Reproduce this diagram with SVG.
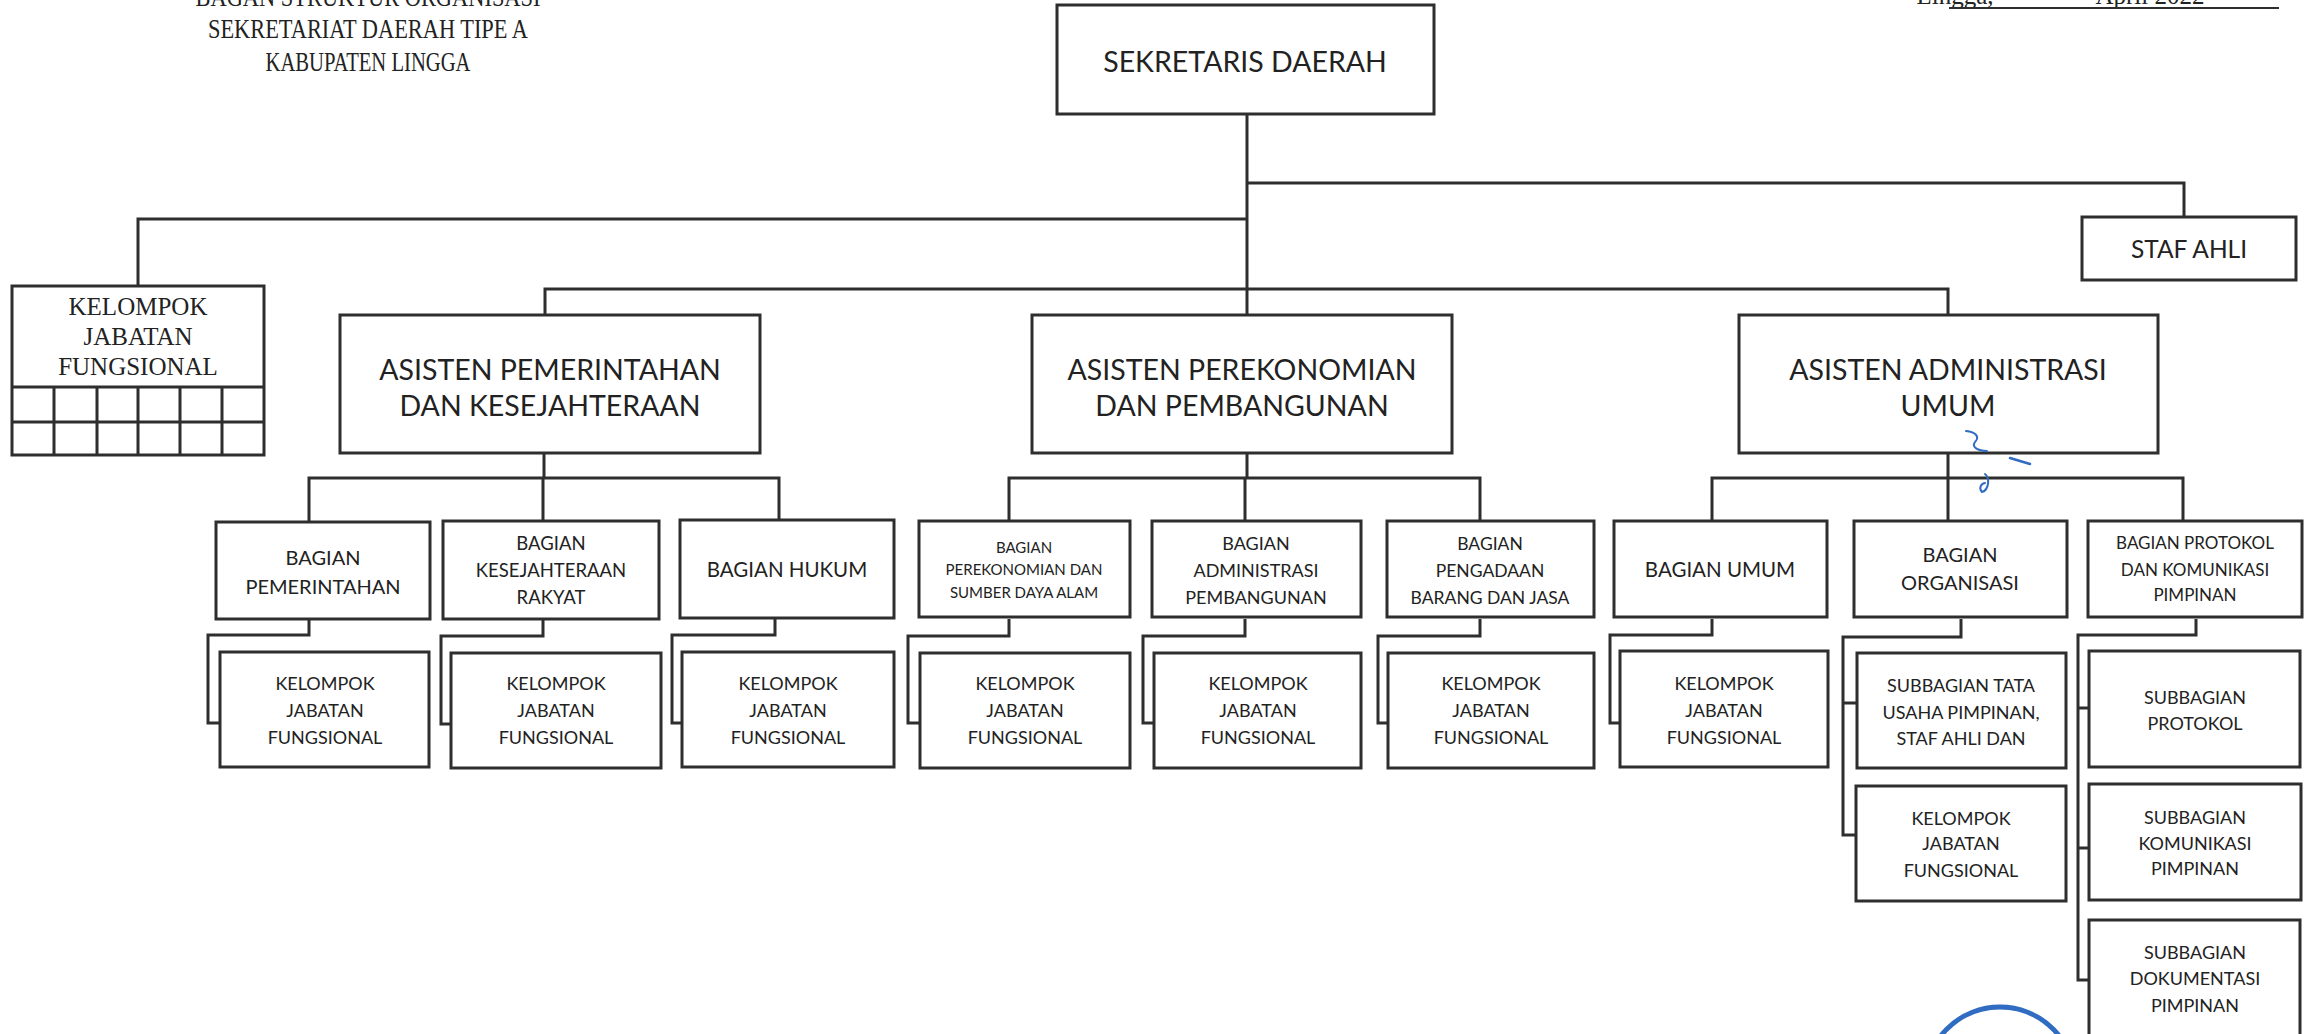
<svg xmlns="http://www.w3.org/2000/svg" width="2309" height="1034" viewBox="0 0 2309 1034">
  <style>
    .box { fill: #ffffff; stroke: #2e2e2e; stroke-width: 3; }
    .ln { fill: none; stroke: #2e2e2e; stroke-width: 3; }
    .t { font-family: Lato, "Open Sans", sans-serif; fill: #222222; text-anchor: middle; }
    .s { font-family: "Liberation Serif", serif; fill: #222222; text-anchor: middle; }
    .ink { fill: none; stroke: #2f6cc2; stroke-linecap: round; stroke-linejoin: round; }
  </style>
  <rect x="0" y="0" width="2309" height="1034" fill="#ffffff"/>

  <!-- heading -->
  <g id="title">
    <text class="s" x="368" y="6" font-size="28" textLength="345" lengthAdjust="spacingAndGlyphs">BAGAN STRUKTUR ORGANISASI</text>
    <text class="s" x="368" y="38" font-size="28" textLength="320" lengthAdjust="spacingAndGlyphs">SEKRETARIAT DAERAH TIPE A</text>
    <text class="s" x="368" y="71" font-size="28" textLength="205" lengthAdjust="spacingAndGlyphs">KABUPATEN LINGGA</text>
  </g>
  <g id="date">
    <text class="s" x="1955" y="4" font-size="25" text-anchor="start">Lingga,</text>
    <text class="s" x="2150" y="4" font-size="25" text-anchor="start">April 2022</text>
    <line x1="1949" y1="8" x2="2279" y2="8" stroke="#2e2e2e" stroke-width="2"/>
  </g>

  <!-- connectors -->
  <g id="connectors">
    <path class="ln" d="M1247,113 V315"/>
    <path class="ln" d="M1247,183 H2184 V217"/>
    <path class="ln" d="M1247,219 H138 V286"/>
    <path class="ln" d="M545,315 V289 H1948 V315"/>
    <!-- asisten to bagian -->
    <path class="ln" d="M544,453 V478 M309,521 V478 H779 V521 M543,478 V521"/>
    <path class="ln" d="M1247,453 V478 M1009,521 V478 H1480 V521 M1245,478 V521"/>
    <path class="ln" d="M1948,453 V478 M1712,521 V478 H2183 V521 M1948,478 V521"/>
    <!-- bagian to kelompok / subbagian -->
    <path class="ln" d="M309,619 V635 H208 V723 H220"/>
    <path class="ln" d="M543,619 V636 H441 V724 H451"/>
    <path class="ln" d="M775,619 V635 H672 V723 H682"/>
    <path class="ln" d="M1009,619 V636 H908 V723 H920"/>
    <path class="ln" d="M1245,619 V636 H1143 V723 H1154"/>
    <path class="ln" d="M1480,619 V636 H1378 V723 H1388"/>
    <path class="ln" d="M1712,619 V635 H1610 V723 H1620"/>
    <path class="ln" d="M1961,619 V637 H1843 V835 H1856 M1843,703 H1857"/>
    <path class="ln" d="M2196,619 V635 H2078 V980 H2089 M2078,708 H2089 M2078,848 H2089"/>
  </g>

  <!-- top level -->
  <g id="sekda">
    <rect class="box" x="1057" y="5" width="377" height="109"/>
    <text class="t" x="1245" y="72" font-size="28.5">SEKRETARIS DAERAH</text>
  </g>
  <g id="staf-ahli">
    <rect class="box" x="2082" y="217" width="214" height="63"/>
    <text class="t" x="2189" y="258" font-size="24.5">STAF AHLI</text>
  </g>
  <g id="kelompok-jf">
    <rect class="box" x="12" y="286" width="252" height="169"/>
    <path class="ln" d="M12,387 H264 M12,422 H264 M54,387 V455 M97,387 V455 M138,387 V455 M180,387 V455 M222,387 V455"/>
    <text class="s" x="138" y="315" font-size="25">KELOMPOK</text>
    <text class="s" x="138" y="345" font-size="25">JABATAN</text>
    <text class="s" x="138" y="375" font-size="25">FUNGSIONAL</text>
  </g>

  <!-- asisten -->
  <g id="asisten-pemerintahan">
    <rect class="box" x="340" y="315" width="420" height="138"/>
    <text class="t" x="550" y="380" font-size="28.5">ASISTEN PEMERINTAHAN</text>
    <text class="t" x="550" y="416" font-size="28.5">DAN KESEJAHTERAAN</text>
  </g>
  <g id="asisten-perekonomian">
    <rect class="box" x="1032" y="315" width="420" height="138"/>
    <text class="t" x="1242" y="380" font-size="28.5">ASISTEN PEREKONOMIAN</text>
    <text class="t" x="1242" y="416" font-size="28.5">DAN PEMBANGUNAN</text>
  </g>
  <g id="asisten-administrasi">
    <rect class="box" x="1739" y="315" width="419" height="138"/>
    <text class="t" x="1948" y="380" font-size="28.5">ASISTEN ADMINISTRASI</text>
    <text class="t" x="1948" y="416" font-size="28.5">UMUM</text>
  </g>

  <!-- bagian -->
  <g id="bagian-pemerintahan">
    <rect class="box" x="216" y="522" width="214" height="97"/>
    <text class="t" x="323" y="565" font-size="20">BAGIAN</text>
    <text class="t" x="323" y="594" font-size="20">PEMERINTAHAN</text>
  </g>
  <g id="bagian-kesra">
    <rect class="box" x="443" y="521" width="216" height="98"/>
    <text class="t" x="551" y="550" font-size="18.5">BAGIAN</text>
    <text class="t" x="551" y="577" font-size="18.5">KESEJAHTERAAN</text>
    <text class="t" x="551" y="604" font-size="18.5">RAKYAT</text>
  </g>
  <g id="bagian-hukum">
    <rect class="box" x="680" y="520" width="214" height="98"/>
    <text class="t" x="787" y="577" font-size="20.5">BAGIAN HUKUM</text>
  </g>
  <g id="bagian-perekonomian">
    <rect class="box" x="919" y="521" width="211" height="96"/>
    <text class="t" x="1024" y="553" font-size="15">BAGIAN</text>
    <text class="t" x="1024" y="575" font-size="15">PEREKONOMIAN DAN</text>
    <text class="t" x="1024" y="598" font-size="15">SUMBER DAYA ALAM</text>
  </g>
  <g id="bagian-adm-pembangunan">
    <rect class="box" x="1152" y="521" width="209" height="96"/>
    <text class="t" x="1256" y="550" font-size="18">BAGIAN</text>
    <text class="t" x="1256" y="577" font-size="18">ADMINISTRASI</text>
    <text class="t" x="1256" y="604" font-size="18">PEMBANGUNAN</text>
  </g>
  <g id="bagian-pengadaan">
    <rect class="box" x="1387" y="521" width="207" height="96"/>
    <text class="t" x="1490" y="550" font-size="17.5">BAGIAN</text>
    <text class="t" x="1490" y="577" font-size="17.5">PENGADAAN</text>
    <text class="t" x="1490" y="604" font-size="17.5">BARANG DAN JASA</text>
  </g>
  <g id="bagian-umum">
    <rect class="box" x="1614" y="521" width="213" height="96"/>
    <text class="t" x="1720" y="577" font-size="20.5">BAGIAN UMUM</text>
  </g>
  <g id="bagian-organisasi">
    <rect class="box" x="1854" y="521" width="213" height="96"/>
    <text class="t" x="1960" y="562" font-size="20">BAGIAN</text>
    <text class="t" x="1960" y="590" font-size="20">ORGANISASI</text>
  </g>
  <g id="bagian-protokol">
    <rect class="box" x="2088" y="521" width="214" height="96"/>
    <text class="t" x="2195" y="549" font-size="17">BAGIAN PROTOKOL</text>
    <text class="t" x="2195" y="576" font-size="17">DAN KOMUNIKASI</text>
    <text class="t" x="2195" y="601" font-size="17">PIMPINAN</text>
  </g>

  <!-- kelompok jabatan fungsional per bagian -->
  <g id="kjf-pemerintahan">
    <rect class="box" x="220" y="652" width="209" height="115"/>
    <text class="t" x="325" y="690" font-size="18">KELOMPOK</text>
    <text class="t" x="325" y="717" font-size="18">JABATAN</text>
    <text class="t" x="325" y="744" font-size="18">FUNGSIONAL</text>
  </g>
  <g id="kjf-kesra">
    <rect class="box" x="451" y="653" width="210" height="115"/>
    <text class="t" x="556" y="690" font-size="18">KELOMPOK</text>
    <text class="t" x="556" y="717" font-size="18">JABATAN</text>
    <text class="t" x="556" y="744" font-size="18">FUNGSIONAL</text>
  </g>
  <g id="kjf-hukum">
    <rect class="box" x="682" y="652" width="212" height="115"/>
    <text class="t" x="788" y="690" font-size="18">KELOMPOK</text>
    <text class="t" x="788" y="717" font-size="18">JABATAN</text>
    <text class="t" x="788" y="744" font-size="18">FUNGSIONAL</text>
  </g>
  <g id="kjf-perekonomian">
    <rect class="box" x="920" y="653" width="210" height="115"/>
    <text class="t" x="1025" y="690" font-size="18">KELOMPOK</text>
    <text class="t" x="1025" y="717" font-size="18">JABATAN</text>
    <text class="t" x="1025" y="744" font-size="18">FUNGSIONAL</text>
  </g>
  <g id="kjf-adm-pembangunan">
    <rect class="box" x="1154" y="653" width="207" height="115"/>
    <text class="t" x="1258" y="690" font-size="18">KELOMPOK</text>
    <text class="t" x="1258" y="717" font-size="18">JABATAN</text>
    <text class="t" x="1258" y="744" font-size="18">FUNGSIONAL</text>
  </g>
  <g id="kjf-pengadaan">
    <rect class="box" x="1388" y="653" width="206" height="115"/>
    <text class="t" x="1491" y="690" font-size="18">KELOMPOK</text>
    <text class="t" x="1491" y="717" font-size="18">JABATAN</text>
    <text class="t" x="1491" y="744" font-size="18">FUNGSIONAL</text>
  </g>
  <g id="kjf-umum">
    <rect class="box" x="1620" y="651" width="208" height="116"/>
    <text class="t" x="1724" y="690" font-size="18">KELOMPOK</text>
    <text class="t" x="1724" y="717" font-size="18">JABATAN</text>
    <text class="t" x="1724" y="744" font-size="18">FUNGSIONAL</text>
  </g>
  <g id="subbag-tata-usaha">
    <rect class="box" x="1857" y="653" width="209" height="115"/>
    <text class="t" x="1961" y="692" font-size="18">SUBBAGIAN TATA</text>
    <text class="t" x="1961" y="719" font-size="18">USAHA PIMPINAN,</text>
    <text class="t" x="1961" y="745" font-size="18">STAF AHLI DAN</text>
  </g>
  <g id="kjf-organisasi">
    <rect class="box" x="1856" y="786" width="210" height="115"/>
    <text class="t" x="1961" y="825" font-size="18">KELOMPOK</text>
    <text class="t" x="1961" y="850" font-size="18">JABATAN</text>
    <text class="t" x="1961" y="877" font-size="18">FUNGSIONAL</text>
  </g>
  <g id="subbag-protokol">
    <rect class="box" x="2089" y="651" width="211" height="116"/>
    <text class="t" x="2195" y="704" font-size="18">SUBBAGIAN</text>
    <text class="t" x="2195" y="730" font-size="18">PROTOKOL</text>
  </g>
  <g id="subbag-komunikasi">
    <rect class="box" x="2089" y="784" width="212" height="116"/>
    <text class="t" x="2195" y="824" font-size="18">SUBBAGIAN</text>
    <text class="t" x="2195" y="850" font-size="18">KOMUNIKASI</text>
    <text class="t" x="2195" y="875" font-size="18">PIMPINAN</text>
  </g>
  <g id="subbag-dokumentasi">
    <rect class="box" x="2089" y="920" width="211" height="130"/>
    <text class="t" x="2195" y="959" font-size="18">SUBBAGIAN</text>
    <text class="t" x="2195" y="985" font-size="18">DOKUMENTASI</text>
    <text class="t" x="2195" y="1012" font-size="18">PIMPINAN</text>
  </g>

  <!-- ink marks: paraf and stamp rim -->
  <g id="ink">
    <path class="ink" stroke-width="2" d="M1966,431 C1976,432 1980,437 1975,442 C1971,447 1978,451 1987,451"/>
    <path class="ink" stroke-width="2.5" d="M2010,458 Q2020,461 2030,464"/>
    <path class="ink" stroke-width="2" d="M1985,474 C1990,478 1989,490 1982,492 C1979,489 1980,484 1985,483"/>
    <circle class="ink" stroke-width="5" cx="2000" cy="1082" r="75"/>
  </g>
</svg>
